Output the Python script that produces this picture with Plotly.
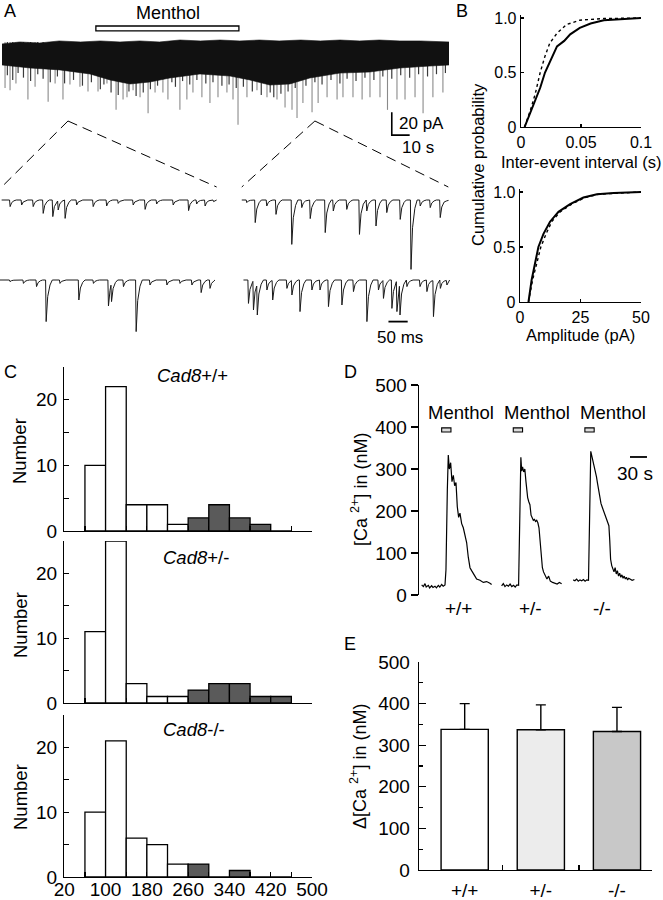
import plotly.graph_objects as go

W, H = 663, 900
FONT = "Liberation Sans, Arial, Helvetica, sans-serif"


def fx(p):
    return p / W


def fy(p):
    return 1 - p / H


# ======================= DATA =======================
# ---- Panel A: overview recording (time in s, current in pA, 0 = baseline)
a_env_t = [0, 10, 21, 32, 44, 55, 66, 77, 88, 99.5, 111, 122, 133, 144, 155, 167, 178, 189, 200, 211, 222.5, 234, 250]
a_env_top = [-1.7, 0, -0.9, 0.9, 0, 0.9, 0, 0.9, 0, 1.7, 0.9, 1.7, 0.9, 1.7, 0.9, 1.7, 0.9, 1.7, 0.9, 1.7, 0.9, 0.9, 0]
a_low_t = [0, 15.7, 32.4, 49.2, 60.4, 71.6, 82.7, 93.9, 110.7, 127.5, 138.6, 149.8, 161, 172.2, 189, 205.7, 222.5, 239.3, 250]
a_low_core = [-20, -22.6, -24.3, -27.8, -33, -36.5, -34.8, -31.3, -27.8, -29.6, -33, -37.4, -36.5, -31.3, -27, -26.1, -22.6, -20.9, -20]
# medium-depth events forming the ragged lower edge of the dense band
a_mid_t = [3, 6, 9, 12, 16, 20, 23, 27, 31, 35, 40, 45, 50, 55, 57, 61, 65, 71, 75, 79, 83, 87, 95, 97, 101, 105, 109,
           114, 118, 123, 127, 131, 135, 140, 145, 150, 152, 156, 160, 164, 170, 175, 179, 184, 189, 193, 198, 203,
           208, 213, 218, 223, 228, 233, 238, 243, 248]
a_mid_amp = [-29, -33, -27, -31, -34, -28, -32, -35, -30, -36, -33, -38, -35, -41, -37, -44, -46, -43, -47, -44, -41,
             -38, -35, -39, -34, -37, -33, -36, -35, -38, -37, -40, -39, -43, -46, -44, -48, -45, -43, -40, -38, -35,
             -37, -33, -36, -32, -34, -31, -33, -30, -32, -29, -31, -28, -30, -28, -27]
a_spike_t = [1.7, 4.5, 7.8, 14.5, 18.5, 25.8, 29.7, 34.1, 38.0, 43.6, 48.1, 53.7, 58.7, 63.8, 67.7, 69.9, 73.3, 77.2,
             81.7, 85.6, 90.0, 92.8, 99.5, 103.4, 106.8, 111.8, 116.3, 120.8, 125.8, 129.2, 132.0, 137.0, 142.6, 148.2,
             153.8, 158.3, 162.2, 165.0, 168.3, 173.4, 176.8, 181.8, 187.4, 190.7, 196.3, 201.4, 205.8, 211.4, 215.6,
             220.9, 225.4, 231.0, 235.5, 241.0, 246.6]
a_spike_amp = [-40, -42, -36, -50, -39, -52, -36, -50, -37, -39, -43, -43, -36, -59, -50, -48, -42, -48, -62, -44, -44,
               -50, -59, -50, -44, -48, -53, -48, -44, -50, -72, -48, -42, -48, -50, -57, -59, -66, -53, -61, -53, -48,
               -50, -48, -48, -50, -48, -48, -59, -50, -50, -48, -62, -48, -44]
a_menthol = [52.5, 132.5]          # s
a_excerpt_t = [36.9, 175.0]        # s, where the expanded sweeps come from

# ---- Panel A: expanded sweeps (event time ms from sweep start, amplitude pA)
ex1_t = [22, 52, 82, 108, 133, 147, 165, 195, 238, 273, 303, 342, 373, 403, 446, 486, 507, 529, 551]
ex1_a = [-3.3, -2.5, -3.3, -6.7, -8.3, -5, -9.2, -2.5, -3.3, -3, -1.7, -2.5, -4.7, -2, -2.5, -5.3, -2, -3, -0.8]
ex2_t = [13, 35, 65, 89, 130, 156, 178, 217, 238, 273, 306, 325, 349, 377, 412, 440, 464, 490, 516, 533]
ex2_a = [-1.3, -11.3, -3, -7.2, -22.2, -3.8, -9.3, -16.3, -5.5, -4.7, -17.2, -5.5, -13, -6.3, -9.7, -34.7, -3, -3.8,
         -8.8, -0.5]
ex3_t = [26, 61, 95, 120, 156, 205, 243, 282, 290, 321, 354, 390, 434, 468, 499, 523, 546]
ex3_a = [-0.8, -1.7, -3.3, -20.8, -1.7, -10, -1.7, -13, -10.8, -3.3, -25.8, -2.5, -2.5, -1.7, -2.5, -6.3, -4.2]
ex4_t = [13, 26, 36, 61, 76, 113, 126, 147, 178, 199, 221, 256, 286, 321, 351, 364, 386, 399, 407, 425, 459, 477,
         494, 512, 529]
ex4_a = [-11.7, -15, -17.5, -5, -10, -4.2, -7.5, -15.8, -5, -5, -13.3, -12.5, -5.8, -20.8, -5, -9.2, -14.2, -15.8,
         -17.5, -3.3, -3.3, -5.8, -18.3, -4.2, -2.5]
ex_offset = [4.3, 628.6, 0.0, 633.0]     # ms
ex_base = [0, 0, -40, -40]               # pA (row offset)
ex_dur = [559, 537, 559, 536]            # ms

# ---- Panel B: cumulative distributions
b1_solid_x = [0.003, 0.008, 0.012, 0.016, 0.020, 0.024, 0.030, 0.036, 0.041, 0.049, 0.058, 0.069, 0.083, 0.1]
b1_solid_y = [0, 0.14, 0.25, 0.36, 0.50, 0.59, 0.74, 0.79, 0.85, 0.91, 0.95, 0.98, 0.99, 1.0]
b1_dot_x = [0.003, 0.008, 0.012, 0.016, 0.020, 0.024, 0.030, 0.038, 0.049, 0.069, 0.1]
b1_dot_y = [0, 0.16, 0.31, 0.50, 0.65, 0.77, 0.86, 0.94, 0.98, 0.995, 1.0]
b2_solid_x = [3.5, 4.8, 6.2, 7.6, 9.7, 12.4, 15.9, 20.7, 26.2, 31.8, 38.7, 50]
b2_solid_y = [0, 0.2, 0.35, 0.5, 0.62, 0.73, 0.82, 0.89, 0.95, 0.98, 0.99, 1.0]
b2_dot_x = [3.5, 5.2, 6.9, 8.6, 10.8, 13.1, 16.6, 21.4, 26.9, 32.5, 50]
b2_dot_y = [0, 0.2, 0.35, 0.5, 0.62, 0.73, 0.82, 0.89, 0.95, 0.98, 1.0]

# ---- Panel C: histograms
c_bin_left = [60, 100, 140, 180, 220, 260, 300, 340, 380, 420]
c_bin_width = 40
c_wt = [10, 22, 4, 4, 1, 2, 4, 2, 1, 0]
c_het = [11, 25, 3, 1, 1, 2, 3, 3, 1, 1]
c_ko = [10, 21, 6, 5, 2, 2, 0, 1, 0, 0]
c_dark_from = 260
c_names = ["<i>Cad8</i>+/+", "<i>Cad8</i>+/-", "<i>Cad8</i>-/-"]
c_xlabels = [20, 100, 180, 260, 340, 420, 500]

# ---- Panel D: calcium traces (s from trace start, nM)
d_offset = [4.7, 145.8, 272.2]
d1_t = [0, 3, 5.9, 8, 11.8, 14, 17.6, 20, 23.5, 26, 29.4, 32, 35.3, 38, 41.2, 42.9, 45.3, 47, 48.8, 51.2, 53.5, 55.9,
        58.2, 60.6, 62.9, 65.3, 67.6, 70.6, 73.5, 76.4, 79.4, 82.3, 85.3, 88.2, 91.1, 94, 97, 102.9, 108.8, 114.7,
        120.5, 123.5]
d1_v = [24, 20, 27, 19, 23, 17, 22, 18, 21, 17, 23, 19, 25, 21, 24, 60, 250, 333, 300, 315, 270, 285, 260, 268, 210,
        185, 195, 170, 160, 140, 125, 90, 65, 58, 50, 45, 38, 35, 30, 32, 28, 25]
d2_t = [0, 3, 6, 9, 12, 15, 18, 21, 24, 27, 30, 31.5, 33, 34, 35.5, 37, 39, 41, 43, 44.5, 46, 48, 50, 52, 54, 56, 58,
        60, 62, 64, 66, 68, 70, 72, 74, 76, 78, 80, 83, 86, 90, 94, 98, 102, 106]
d2_v = [22, 27, 20, 24, 21, 26, 20, 23, 19, 24, 23, 120, 290, 328, 295, 305, 293, 300, 270, 240, 232, 222, 215, 190,
        185, 178, 180, 175, 178, 172, 160, 120, 90, 65, 55, 50, 42, 38, 45, 33, 30, 28, 26, 30, 27]
d3_t = [0, 3, 6, 9, 12, 15, 18, 21, 24, 27, 28.5, 30, 31, 33, 35, 37, 39, 41, 43, 45, 47, 49, 51, 53, 55, 57, 59, 61,
        63, 64.5, 66, 68, 70, 72, 74, 76, 78, 80, 82, 84, 86, 88, 90, 92, 94, 96, 98, 101, 104, 108]
d3_v = [36, 34, 38, 33, 36, 34, 37, 33, 36, 35, 150, 320, 342, 330, 318, 305, 300, 282, 265, 245, 228, 218, 210, 202,
        195, 185, 180, 172, 165, 130, 85, 70, 62, 55, 65, 50, 58, 45, 52, 42, 48, 40, 45, 38, 42, 36, 40, 38, 35, 37]
d_menthol_on = [35.3, 20.6, 20.6]
d_menthol_off = [51.7, 37.0, 37.0]
d_genotypes = ["+/+", "+/-", "-/-"]

# ---- Panel E: peak responses
e_groups = ["+/+", "+/-", "-/-"]
e_mean = [338, 337, 333]
e_sem = [62, 60, 58]
e_colors = ["#ffffff", "#ececec", "#c8c8c8"]

# ======================= FIGURE =======================
fig = go.Figure()
LW = 1.3


def line(x, y, ax, color="black", width=1.0, dash=None):
    fig.add_trace(go.Scatter(x=x, y=y, mode="lines", xaxis="x" + ax, yaxis="y" + ax,
                             line=dict(color=color, width=width, dash=dash), hoverinfo="skip"))


def spikes(ts, amps, color, width):
    sx, sy = [], []
    for t, a in zip(ts, amps):
        sx += [t, t, None]
        sy += [0, a, None]
    fig.add_trace(go.Scatter(x=sx, y=sy, mode="lines", line=dict(color=color, width=width), xaxis="x",
                             yaxis="y", hoverinfo="skip"))


# --- A overview
spikes(a_spike_t, a_spike_amp, "#8a8a8a", 1.1)
spikes(a_mid_t, a_mid_amp, "#3a3a3a", 1.2)
fig.add_trace(go.Scatter(x=a_env_t + a_low_t[::-1], y=a_env_top + a_low_core[::-1], fill="toself",
                         fillcolor="#111111", line=dict(width=0.6, color="#111111"), mode="lines", xaxis="x",
                         yaxis="y", hoverinfo="skip"))


# --- A expanded sweeps
def sweep(ev_t, ev_a, dur):
    xs, ys = [0.0], [0.0]
    for t, a in zip(ev_t, ev_a):
        while len(xs) > 1 and xs[-1] >= t - 1.5:
            xs.pop()
            ys.pop()
        xs.append(t - 1.5)
        ys.append(ys[-1] * 0.5)
        for dt, f in [(0, 1.0), (4, 0.4), (10, 0.12), (16, 0.0)]:
            xs.append(t + dt)
            ys.append(a * f)
    while xs[-1] > dur:
        xs.pop()
        ys.pop()
    xs.append(dur)
    ys.append(0.0)
    return xs, ys


for (et, ea), off, base, dur in zip([(ex1_t, ex1_a), (ex2_t, ex2_a), (ex3_t, ex3_a), (ex4_t, ex4_a)],
                                    ex_offset, ex_base, ex_dur):
    xs, ys = sweep(et, ea, dur)
    line([x + off for x in xs], [y + base for y in ys], "2", color="#1a1a1a", width=1.0)

# --- B
line(b1_dot_x, b1_dot_y, "3", width=1.4, dash="dot")
line(b1_solid_x, b1_solid_y, "3", width=2.0)
line(b2_dot_x, b2_dot_y, "4", width=1.4, dash="dot")
line(b2_solid_x, b2_solid_y, "4", width=2.0)

# --- C
centers = [b + c_bin_width / 2 for b in c_bin_left]
cols = ["#5a5a5a" if b >= c_dark_from else "#ffffff" for b in c_bin_left]
for counts, ax in zip([c_wt, c_het, c_ko], ["5", "6", "7"]):
    fig.add_trace(go.Bar(x=centers, y=counts, width=c_bin_width, xaxis="x" + ax, yaxis="y" + ax,
                         marker=dict(color=cols, line=dict(color="black", width=LW)), hoverinfo="skip"))

# --- D
for off, tt, vv in zip(d_offset, [d1_t, d2_t, d3_t], [d1_v, d2_v, d3_v]):
    line([t + off for t in tt], vv, "8", width=1.2)

# --- E
fig.add_trace(go.Bar(x=[0, 1, 2], y=e_mean, width=0.62, xaxis="x9", yaxis="y9",
                     marker=dict(color=e_colors, line=dict(color="black", width=1.4)),
                     error_y=dict(type="data", array=e_sem, arrayminus=[0, 0, 0], symmetric=False,
                                  color="black", thickness=1.4, width=5),
                     hoverinfo="skip"))

# ======================= AXES =======================


def hid(domain, rng, anchor):
    return dict(domain=domain, range=rng, visible=False, fixedrange=True, anchor=anchor, automargin=False)


def vis(domain, rng, anchor, size=16, **kw):
    d = dict(domain=domain, range=rng, anchor=anchor, showline=True, linecolor="black", linewidth=LW,
             showgrid=False, zeroline=False, ticks="inside", tickcolor="black", tickwidth=1.2, ticklen=4,
             tickfont=dict(family=FONT, size=size, color="black"), fixedrange=True, automargin=False)
    d.update(kw)
    return d


layout = dict(
    template="none",
    width=W, height=H, margin=dict(l=0, r=0, t=0, b=0, pad=0, autoexpand=False), paper_bgcolor="white",
    plot_bgcolor="rgba(0,0,0,0)", showlegend=False, font=dict(family=FONT, color="black"),
    xaxis=hid([fx(2), fx(449)], [0, 250], "y"),
    yaxis=hid([fy(150), fy(20)], [-93.9, 19.1], "x"),
    xaxis2=hid([0, fx(450)], [0, 1170], "y2"),
    yaxis2=hid([fy(345), fy(185)], [-72.5, 7.5], "x2"),
    xaxis3=vis([fx(521), fx(641)], [0, 0.1], "y3", tickmode="array", tickvals=[0, 0.05, 0.1],
               ticktext=["0", "0.05", "0.1"], ticklen=3),
    yaxis3=vis([fy(127), fy(127 - 109 * 1.03)], [0, 1.03], "x3", tickmode="array", tickvals=[0, 0.5, 1],
               ticktext=["0", "0.5", "1.0"], ticklen=3),
    xaxis4=vis([fx(520), fx(641)], [0, 50], "y4", tickmode="array", tickvals=[0, 25, 50], ticklen=3),
    yaxis4=vis([fy(302), fy(302 - 110 * 1.03)], [0, 1.03], "x4", tickmode="array", tickvals=[0, 0.5, 1],
               ticktext=["0", "0.5", "1.0"], ticklen=3),
)

c_minor_x = [v + 40 for v in c_xlabels[:-1]]
c_ydom = [(531, 367), (703, 541), (877, 715)]
for ax, (yb, yt) in zip(["5", "6", "7"], c_ydom):
    layout["xaxis" + ax] = vis([fx(64.3), fx(312)], [20, 500], "y" + ax, size=19, tickmode="array",
                               tickvals=c_xlabels, ticklen=5, showticklabels=(ax == "7"), ticklabelstandoff=-5,
                               minor=dict(tickmode="array", tickvals=c_minor_x, ticks="inside", ticklen=5,
                                          tickcolor="black", tickwidth=1.2))
    layout["yaxis" + ax] = vis([fy(yb), fy(yt)], [0, 25], "x" + ax, size=19, tickmode="array",
                               tickvals=[0, 10, 20], ticklen=5, ticklabelstandoff=2,
                               minor=dict(tickmode="array", tickvals=[5, 15, 25], ticks="inside", ticklen=5,
                                          tickcolor="black", tickwidth=1.2))

layout["xaxis8"] = hid([fx(419), fx(660)], [0, 425.4], "y8")
layout["yaxis8"] = vis([fy(595), fy(385)], [0, 500], "x8", size=19, tickmode="array",
                       tickvals=[0, 100, 200, 300, 400, 500], ticks="outside", ticklen=7)
layout["xaxis9"] = vis([fx(419), fx(652)], [-0.6, 2.46], "y9", size=19, tickmode="array", tickvals=[0, 1, 2],
                       ticktext=e_groups, ticklen=0, ticklabelstandoff=3,
                       minor=dict(tickmode="array", tickvals=[0.5, 1.5], ticks="inside", ticklen=5,
                                  tickcolor="black", tickwidth=1.2))
layout["yaxis9"] = vis([fy(870), fy(662)], [0, 500], "x9", size=19, tickmode="array",
                       tickvals=[0, 100, 200, 300, 400, 500], ticklen=7, ticklabelstandoff=4,
                       minor=dict(dtick=50, ticks="inside", ticklen=4, tickcolor="black", tickwidth=1.2))
fig.update_layout(**layout)

# ======================= SHAPES & TEXT =======================
shapes = []
ann = []


def text(x, y, s, size=18, xanchor="center", yanchor="middle", angle=0):
    ann.append(dict(x=fx(x), y=fy(y), xref="paper", yref="paper", text=s, showarrow=False,
                    font=dict(family=FONT, size=size, color="black"), xanchor=xanchor, yanchor=yanchor,
                    textangle=angle))


# A: menthol bar, scale bars
shapes.append(dict(type="rect", xref="x", yref="y", x0=a_menthol[0], x1=a_menthol[1], y0=9.6, y1=13.9,
                   line=dict(color="black", width=LW), fillcolor="white"))
shapes.append(dict(type="path", xref="x", yref="y", path="M 218,-61 L 218,-81 L 228,-81",
                   line=dict(color="black", width=1.6)))
shapes.append(dict(type="line", xref="x2", yref="y2", x0=1010, x1=1060, y0=-60.8, y1=-60.8,
                   line=dict(color="black", width=1.8)))


def a_px(t):
    return 2 + t / 250 * 447


def ex_px(ms):
    return ms / 1170 * 450


for t, k in zip(a_excerpt_t, [0, 1]):
    ax_x = a_px(t)
    for end in [ex_offset[k], ex_offset[k] + ex_dur[k]]:
        shapes.append(dict(type="line", xref="paper", yref="paper", x0=fx(ax_x), y0=fy(121),
                           x1=fx(ex_px(end)), y1=fy(187), line=dict(color="black", width=1, dash="10px,6px")))

# D: menthol bars, 30 s bar
for off, on, offt in zip(d_offset, d_menthol_on, d_menthol_off):
    shapes.append(dict(type="rect", xref="x8", yref="y8", x0=off + on, x1=off + offt, y0=388, y1=398,
                       line=dict(color="black", width=1.1), fillcolor="#dddddd"))
shapes.append(dict(type="line", xref="x8", yref="y8", x0=372.4, x1=402.4, y0=328.6, y1=328.6,
                   line=dict(color="black", width=1.8)))

# panel letters
for s, x, y in [("A", 10, 11), ("B", 462, 11), ("C", 10, 372), ("D", 350, 372), ("E", 350, 644)]:
    text(x, y, s, size=18)

# A texts
text(168, 13, "Menthol", size=18)
text(397, 123, "20 pA", size=17, xanchor="left")
text(418, 147, "10 s", size=17)
text(400, 337, "50 ms", size=17)

# B texts
text(478, 165, "Cumulative probability", size=16.5, angle=-90)
text(581, 162, "Inter-event interval (s)", size=16.5)
text(580, 335, "Amplitude (pA)", size=16.5)

# C texts
for yc, nm, (nx, ny) in zip([451, 625, 797], c_names, [(192, 375), (196, 557), (194, 729)]):
    text(20, yc, "Number", size=18.5, angle=-90)
    text(nx, ny, nm, size=18.5)

# D texts
text(360, 490, "[Ca <sup>2+</sup>] in (nM)", size=18, angle=-90)
for xc in [461, 537, 613]:
    text(xc, 412, "Menthol", size=18.5)
text(635, 473, "30 s", size=19)
for xc, g in zip([458, 530, 602], d_genotypes):
    text(xc, 608, g, size=19)

# E texts
text(358, 767, "Δ[Ca <sup>2+</sup>] in (nM)", size=18, angle=-90)

fig.update_layout(shapes=shapes, annotations=ann)
fig.write_html("out.html", config={"displayModeBar": False, "staticPlot": True},
               post_script="document.body.style.margin='0px';document.body.style.padding='0px';"
                           "document.body.style.overflow='hidden';")
